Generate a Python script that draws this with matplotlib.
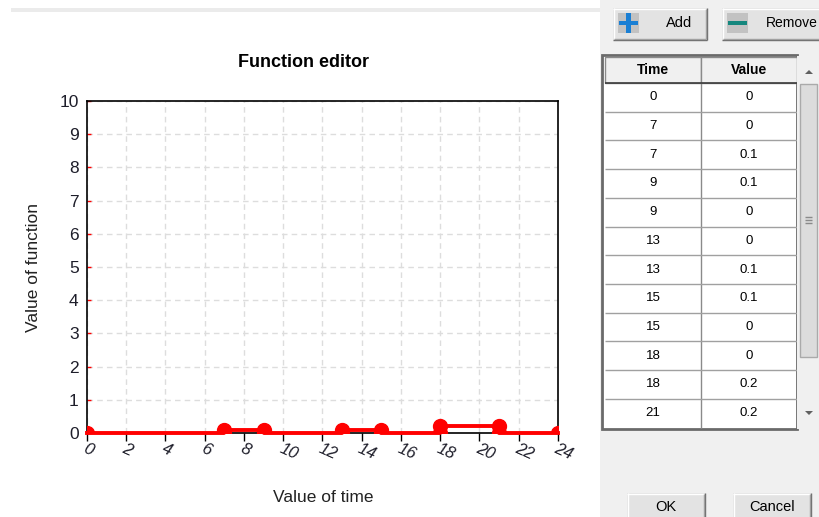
import matplotlib
matplotlib.use('Agg')
import matplotlib.pyplot as plt
from matplotlib.patches import Rectangle, Polygon

# ---- data ----
times = [0, 7, 7, 9, 9, 13, 13, 15, 15, 18, 18, 21, 21, 24]
values = [0, 0, 0.1, 0.1, 0, 0, 0.1, 0.1, 0, 0, 0.2, 0.2, 0, 0]
x_ticks = list(range(0, 25, 2))
y_ticks = list(range(0, 11))
table_headers = ["Time", "Value"]
visible_rows = 12
title = "Function editor"
xlabel = "Value of time"
ylabel = "Value of function"
button_labels = ["Add", "Remove", "OK", "Cancel"]

plt.rcParams['font.family'] = ['Liberation Sans', 'DejaVu Sans']

W, H = 819, 517
fig = plt.figure(figsize=(W / 100, H / 100), dpi=100)
fig.patch.set_facecolor('white')

# ---- UI overlay in pixel coordinates ----
ui = fig.add_axes([0, 0, 1, 1], zorder=0)
ui.set_xlim(0, W)
ui.set_ylim(H, 0)
ui.axis('off')


def rect(x0, y0, x1, y1, fc, ec='none', lw=0, z=1):
    ui.add_patch(Rectangle((x0, y0), x1 - x0, y1 - y0, facecolor=fc,
                           edgecolor=ec, linewidth=lw, zorder=z))


def hline(y, x0, x1, c, lw=1, z=3):
    ui.plot([x0, x1], [y, y], color=c, lw=lw, zorder=z, solid_capstyle='butt')


def vline(x, y0, y1, c, lw=1, z=3):
    ui.plot([x, x], [y0, y1], color=c, lw=lw, zorder=z, solid_capstyle='butt')


def button(x0, y0, x1, y1):
    rect(x0, y0, x1, y1, '#e3e3e3', z=2)
    hline(y0 + 0.5, x0, x1, '#ffffff', 1, z=3)
    vline(x0 + 0.5, y0, y1, '#ffffff', 1, z=3)
    hline(y1 - 0.5, x0, x1, '#6a6a6a', 1, z=3)
    vline(x1 - 0.5, y0, y1, '#6a6a6a', 1, z=3)
    hline(y1 - 1.5, x0 + 1, x1 - 1, '#a0a0a0', 1, z=3)
    vline(x1 - 1.5, y0 + 1, y1 - 1, '#a0a0a0', 1, z=3)


# top strip and right panel
rect(11, 8, 600, 12, '#ebebeb')
rect(600, 0, 819, 517, '#f0f0f0')

# buttons
button(613, 8, 707, 40)
button(722, 8, 840, 40)
button(627, 493, 705, 530)
button(733, 493, 811, 530)

# add icon
rect(618, 13, 639, 33, '#c2c2c2', z=4)
rect(626, 13, 631, 33, '#1a7fd4', z=5)
rect(619, 21, 638, 25, '#1a7fd4', z=5)
ui.text(679, 23, button_labels[0], ha='center', va='center', fontsize=10.5, color='#000000', zorder=6)
# remove icon
rect(727, 13, 748, 33, '#c2c2c2', z=4)
rect(728, 21, 747, 25, '#15877e', z=5)
ui.text(766, 23, button_labels[1], ha='left', va='center', fontsize=10, color='#000000', zorder=6)
ui.text(666, 507, button_labels[2], ha='center', va='center', fontsize=10.5, color='#000000', zorder=6)
ui.text(772, 507, button_labels[3], ha='center', va='center', fontsize=10.5, color='#000000', zorder=6)

# table
tx0, tx1, tmid = 605, 797, 701
ty_head0, ty_head1 = 57, 83
row_h = 28.7
rect(602, 55, 797, 429, 'white', '#6a6a6a', 2, z=2)
rect(605, ty_head0, tmid, ty_head1, '#f0f0f0', '#8a8a8a', 1, z=3)
rect(tmid, ty_head0, tx1, ty_head1, '#f0f0f0', '#8a8a8a', 1, z=3)
hline(ty_head1, 605, tx1, '#3c3c3c', 1.2, z=4)
ui.text((605 + tmid) / 2, 70.5, table_headers[0], ha='center', va='center',
        fontsize=10, fontweight='bold', zorder=5)
ui.text((tmid + tx1) / 2, 70.5, table_headers[1], ha='center', va='center',
        fontsize=10, fontweight='bold', zorder=5)
vline(tmid, ty_head1, 428, '#8a8a8a')
for i in range(visible_rows):
    yb = ty_head1 + (i + 1) * row_h
    if i < visible_rows - 1:
        hline(yb, 605, tx1, '#a0a0a0')
    yc = ty_head1 + (i + 0.5) * row_h
    ui.text((605 + tmid) / 2, yc, f"{times[i]:g}", ha='center', va='center', fontsize=9.5, zorder=5)
    ui.text((tmid + tx1) / 2, yc, f"{values[i]:g}", ha='center', va='center', fontsize=9.5, zorder=5)

# scrollbar
rect(797, 56, 819, 429, '#f0f0f0', z=3)
rect(800, 84, 817, 357, '#dcdcdc', '#aaaaaa', 1, z=4)
for gy in (217, 220, 223):
    hline(gy, 805, 812, '#8a8a8a', 1, z=5)
ui.add_patch(Polygon([[805, 74], [813, 74], [809, 70]], closed=True, fc='#606060', ec='none', zorder=5))
ui.add_patch(Polygon([[805, 411], [813, 411], [809, 415]], closed=True, fc='#606060', ec='none', zorder=5))

# ---- main chart ----
ax = fig.add_axes([87 / W, (H - 433) / H, (558 - 87) / W, (433 - 101) / H], zorder=2)
ax.set_xlim(0, 24)
ax.set_ylim(0, 10)
ax.set_xticks(x_ticks)
ax.set_yticks(y_ticks)
ax.grid(True, color='#dddddd', linestyle=(0, (4, 3)), linewidth=1)
ax.set_axisbelow(True)
for s in ax.spines.values():
    s.set_color('black')
    s.set_linewidth(1.2)

ax.plot(times, values, color='#ff0000', lw=2.8, clip_on=False, zorder=5)
ax.plot(times, values, 'o', color='#ff0000', ms=10, clip_on=True, zorder=6)

ax.tick_params(axis='y', direction='in', colors='#ff0000', length=3, width=1, pad=6,
               labelcolor='#1e1e2a', labelsize=12.5)
ax.tick_params(axis='x', direction='out', color='black', length=6, width=1, pad=0,
               labelcolor='#1e1e2a', labelsize=12)
ax.set_xticklabels([str(t) for t in x_ticks])
for lab in ax.get_xticklabels():
    lab.set_rotation(-24)
    lab.set_rotation_mode('anchor')
    lab.set_ha('left')
    lab.set_va('top')
    lab.set_fontstyle('italic')

fig.text(303 / W, 1 - 63 / H, title, ha='center', va='center', fontsize=13, fontweight='bold')
fig.text(323 / W, 1 - 498 / H, xlabel, ha='center', va='center', fontsize=12.5, color='#222222')
fig.text(33 / W, 1 - 267 / H, ylabel, ha='center', va='center', fontsize=12.5,
         rotation=90, color='#222222')

fig.savefig('out.png', dpi=100)
